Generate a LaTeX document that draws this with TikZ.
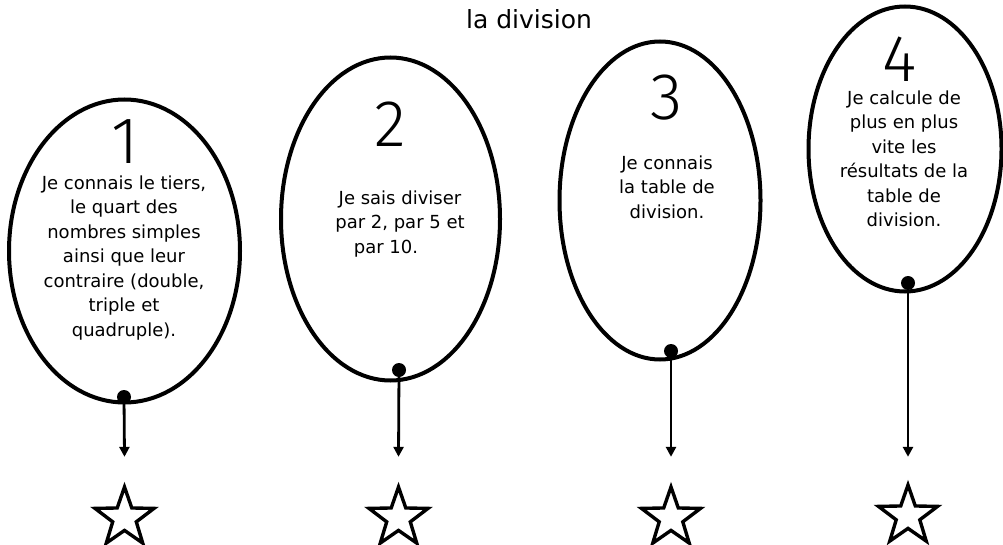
\documentclass[tikz,border=0pt]{standalone}
\usepackage{fontspec}
\setmainfont{DejaVu Sans}
\newfontfamily\chiffrefont{Fira Sans}[UprightFont=* Light]
\usetikzlibrary{shapes.geometric, arrows.meta}

\begin{document}
\begin{tikzpicture}[x=1pt, y=-1pt,
	bulle/.style={draw, line width=4pt, ellipse, inner sep=0pt},
	etoile/.style={draw, line width=3.4pt, star, star points=5, star point ratio=2.5, minimum size=62pt, inner sep=0pt},
	chiffre/.style={inner sep=0pt, text height=46pt, text depth=0pt, font=\chiffrefont\fontsize{66}{66}\selectfont},
	texte/.style={align=center, inner sep=0pt, font=\fontsize{18}{24.5}\selectfont},
	fleche/.style={line width=2.8pt, -{Triangle[length=10pt, width=10pt]}},
	point/.style={fill=black, circle, inner sep=0pt, minimum size=14pt}]

	\useasboundingbox (0, 0) rectangle (1003, 545);

	\node (titre) at (529, 19) {\fontsize{25}{25}\selectfont la division};

	% les bulles
	\node[bulle, minimum width=231pt, minimum height=303pt] (e1) at (124.5, 251) {};
	\node[bulle, minimum width=219pt, minimum height=323pt] (e2) at (390.5, 219) {};
	\node[bulle, minimum width=201pt, minimum height=318pt] (e3) at (660, 200.5) {};
	\node[bulle, minimum width=193pt, minimum height=285pt] (e4) at (905, 149) {};

	\node[chiffre] (c1) at (125, 141) {1};
	\node[chiffre] (c2) at (390, 124) {2};
	\node[chiffre] (c3) at (667, 97) {3};
	\node[chiffre] (c4) at (900, 59) {4};

	\node[texte] (t1) at (124, 258) {Je connais le tiers,\\le quart des\\nombres simples\\ainsi que leur\\contraire (double,\\triple et\\quadruple).};
	\node[texte] (t2) at (400, 224) {Je sais diviser\\par 2, par 5 et\\par 10.\hspace*{28pt}};
	\node[texte] (t3) at (667, 187) {Je connais\\la table de\\division.};
	\node[texte] (t4) at (904, 159) {Je calcule de\\plus en plus\\vite les\\résultats de la\\table de\\division.};

	% les points et les fleches
	\node[point] (p1) at (124, 397) {};
	\node[point] (p2) at (399, 370) {};
	\node[point] (p3) at (671, 351) {};
	\node[point] (p4) at (908, 283) {};

	\node[etoile] (s1) at (124.5, 518) {};
	\node[etoile] (s2) at (398.5, 518) {};
	\node[etoile] (s3) at (671, 518) {};
	\node[etoile] (s4) at (908, 516) {};

	\draw[fleche] (p1.center) -- ([yshift=25pt]s1.north);
	\draw[fleche] (p2.center) -- ([yshift=25pt]s2.north);
	\draw[fleche] (p3.center) -- ([yshift=25pt]s3.north);
	\draw[fleche] (p4.center) -- ([yshift=23pt]s4.north);

\end{tikzpicture}
\end{document}
